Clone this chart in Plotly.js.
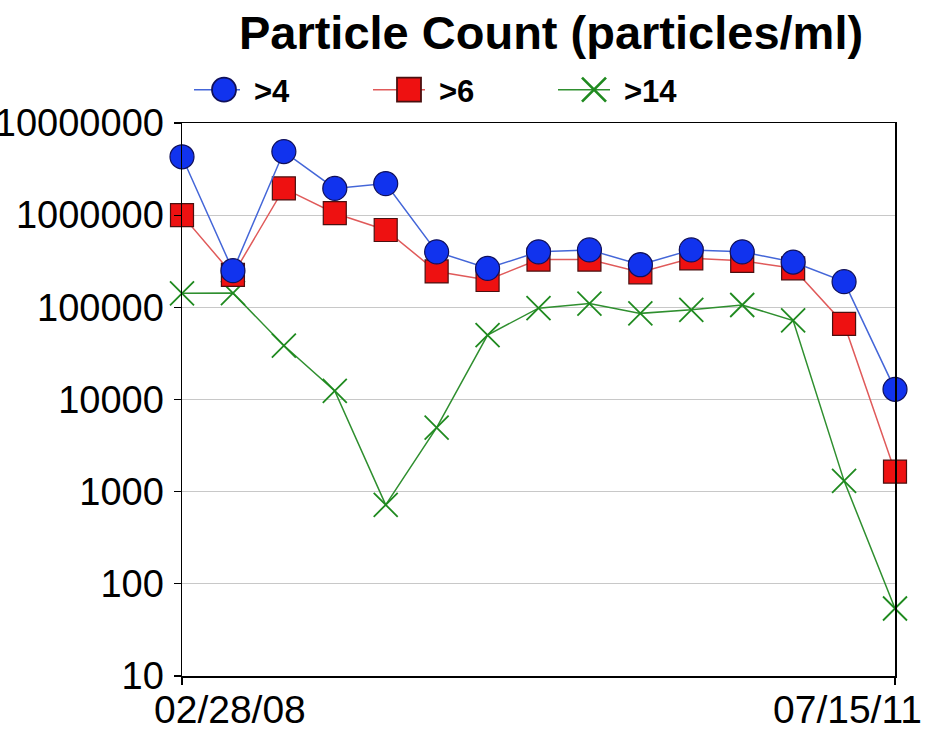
<!DOCTYPE html>
<html>
<head>
<meta charset="utf-8">
<script src="https://cdn.plot.ly/plotly-3.0.1.min.js"></script>
<style>
  html, body { margin: 0; padding: 0; background: #ffffff; }
  #chart { width: 930px; height: 731px; }
</style>
</head>
<body>
<div id="chart"></div>
<script>
// ---- data ----
const sampleIndex = [0, 1, 2, 3, 4, 5, 6, 7, 8, 9, 10, 11, 12, 13, 14];
const xTickPositions = [0, 14];
const xTickLabels = ["02/28/08", "07/15/11"];

const seriesNames = [">4", ">6", ">14"];
const gt4  = [4300000, 250000, 4900000, 1950000, 2200000, 400000, 265000, 400000, 420000, 290000, 420000, 400000, 310000, 190000, 12900];
const gt6  = [1000000, 225000, 1950000, 1050000, 690000, 245000, 198000, 330000, 330000, 240000, 340000, 320000, 265000, 66000, 1650];
const gt14 = [142000, 143000, 38500, 12400, 720, 4950, 50000, 98000, 110000, 86000, 94000, 106000, 72000, 1310, 54];

const yTickValues = [10, 100, 1000, 10000, 100000, 1000000, 10000000];
const yTickLabels = ["10", "100", "1000", "10000", "100000", "1000000", "10000000"];

const FONT = '"Liberation Sans", Arial, Helvetica, sans-serif';

const traces = [
  {
    name: seriesNames[2], x: sampleIndex, y: gt14, type: 'scatter', mode: 'lines+markers',
    line: { color: '#2f8f2f', width: 1.5 },
    marker: { symbol: 'x-thin', size: 24, color: '#1f8a1f', line: { color: '#1f8a1f', width: 1.8 } },
    cliponaxis: false, legendrank: 3
  },
  {
    name: seriesNames[1], x: sampleIndex, y: gt6, type: 'scatter', mode: 'lines+markers',
    line: { color: '#e05a5a', width: 1.5 },
    marker: { symbol: 'square', size: 23, color: '#ee1111', line: { color: '#4a1010', width: 1.2 } },
    cliponaxis: false, legendrank: 2
  },
  {
    name: seriesNames[0], x: sampleIndex, y: gt4, type: 'scatter', mode: 'lines+markers',
    line: { color: '#4466d8', width: 1.5 },
    marker: { symbol: 'circle', size: 24, color: '#1133ee', line: { color: '#10105a', width: 1.2 } },
    cliponaxis: false, legendrank: 1
  }
];

const layout = {
  width: 930, height: 731,
  margin: { l: 182, r: 35, t: 123, b: 55, pad: 0 },
  paper_bgcolor: '#ffffff', plot_bgcolor: '#ffffff',
  font: { family: FONT, color: '#000000' },
  title: {
    text: '<b>Particle Count (particles/ml)</b>',
    font: { family: FONT, size: 47, color: '#000000' },
    xref: 'container', x: 551 / 930, xanchor: 'center',
    yref: 'container', y: 1 - 33 / 731, yanchor: 'middle'
  },
  showlegend: true,
  legend: {
    orientation: 'h',
    x: (194 - 182) / 713, xanchor: 'left',
    y: 1 + (123 - 90) / 553, yanchor: 'middle',
    font: { family: FONT, size: 31, color: '#000000', weight: 'bold' },
    bgcolor: 'rgba(0,0,0,0)', borderwidth: 0,
    entrywidth: 120, entrywidthmode: 'pixels',
    itemwidth: 50
  },
  xaxis: {
    type: 'linear', range: [0, 14],
    showgrid: false, zeroline: false,
    showline: true, linecolor: '#000000', linewidth: 1.5, mirror: true,
    ticks: 'outside', ticklen: 7, tickcolor: '#000000', tickwidth: 1.2,
    tickvals: xTickPositions, ticktext: xTickLabels, showticklabels: false
  },
  yaxis: {
    type: 'log', range: [1, 7],
    showgrid: true, gridcolor: '#c8c8c8', gridwidth: 1,
    zeroline: false,
    showline: true, linecolor: '#000000', linewidth: 1.5, mirror: true,
    ticks: 'outside', ticklen: 7, tickcolor: '#000000', tickwidth: 1.2,
    tickvals: yTickValues, ticktext: yTickLabels,
    ticklabelstandoff: 2,
    tickfont: { family: FONT, size: 38, color: '#000000' }
  },
  annotations: [
    { text: xTickLabels[0], xref: 'x', x: xTickPositions[0], yref: 'paper', y: 0, xanchor: 'center', yanchor: 'top',
      xshift: 48, yshift: -10, showarrow: false, font: { family: FONT, size: 39, color: '#000000' } },
    { text: xTickLabels[1], xref: 'x', x: xTickPositions[1], yref: 'paper', y: 0, xanchor: 'center', yanchor: 'top',
      xshift: -48, yshift: -10, showarrow: false, font: { family: FONT, size: 39, color: '#000000' } }
  ]
};

Plotly.newPlot('chart', traces, layout, { displayModeBar: false, staticPlot: true }).then(function (gd) {
  // enlarge legend symbols to match the reference (Plotly caps them at 16px)
  gd.querySelectorAll('.legend .legendpoints path.scatterpts').forEach(function (p) {
    const t = p.getAttribute('transform') || '';
    p.setAttribute('transform', t + ' scale(1.5)');
  });
  gd.querySelectorAll('.legend .legendlines path').forEach(function (p) {
    p.setAttribute('d', 'M-6,0h52');
  });
});
</script>
</body>
</html>
